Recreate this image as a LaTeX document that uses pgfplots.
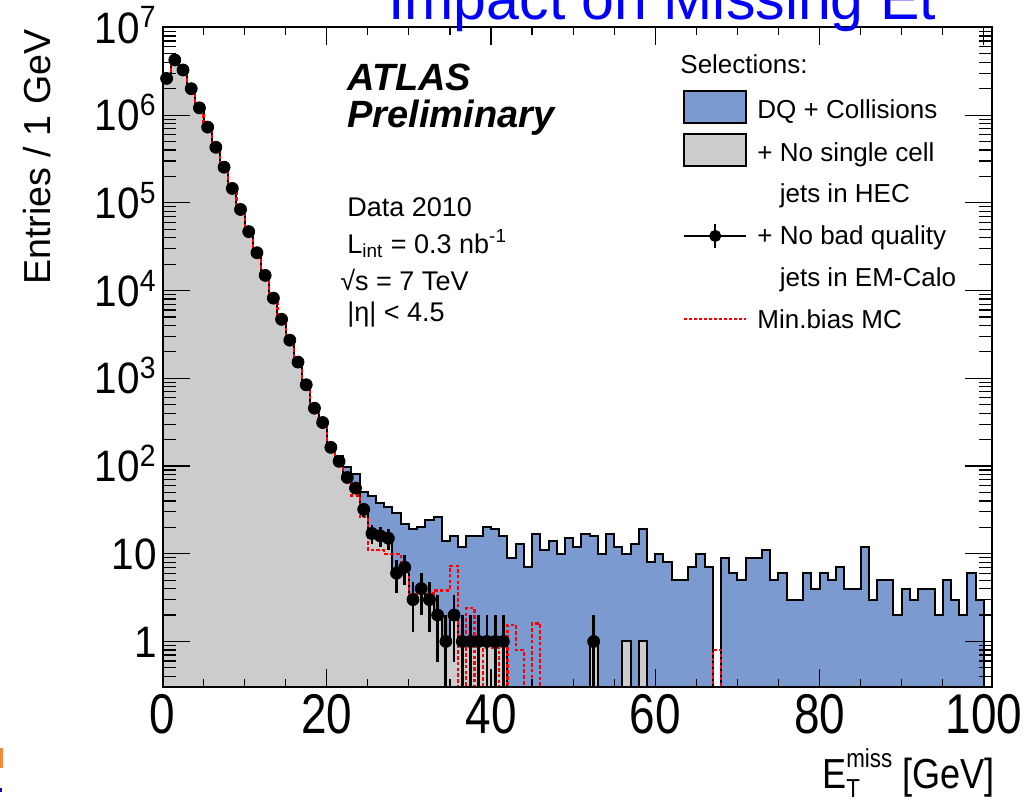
\documentclass[border=0pt]{standalone}
\usepackage{pgfplots}
\pgfplotsset{compat=1.18}
\usepackage{pgfplotstable}
\usepackage{fontspec}
\setmainfont{Liberation Sans}

\definecolor{histblue}{RGB}{122,154,208}
\definecolor{histgrey}{RGB}{204,204,204}
\definecolor{titleblue}{RGB}{0,0,255}
\definecolor{slideorange}{RGB}{240,140,60}

% Missing E_T spectra, 1 GeV bins (left bin edge); 0.001 marks an empty bin
\pgfplotstableread{
edge blue grey mc
0 0.001 0.001 0.001
0 2620000 2620000 2620000
1 4250000 4250000 4250000
2 3270000 3270000 3270000
3 2000000 2000000 2000000
4 1210000 1210000 1210000
5 730000 730000 730000
6 430000 430000 430000
7 255000 255000 255000
8 146000 146000 146000
9 84000 84000 84000
10 47000 47000 47000
11 27000 27000 27000
12 14900 14900 14900
13 8200 8200 8200
14 4700 4700 4700
15 2720 2720 2720
16 1530 1530 1530
17 850 843 843
18 470 456 456
19 330 313 313
20 175 163 163
21 131 113 113
22 97 74 70
23 81 56 46
24 50 32 26
25 46 17 11
26 38 16 11
27 34 15 10
28 29 6 10
29 22 7 7
30 19 3 3.5
31 20 4 3.5
32 24 3 3.5
33 26 2 3.8
34 14 1 3.8
35 16 2 7.3
36 12 1 0.001
37 16 1 2.4
38 16 1 0.001
39 20 1 0.85
40 19 1 0.85
41 16 1 0.001
42 9 0.001 1.55
43 13 0.001 0.8
44 7 0.001 0.001
45 17 0.001 1.6
46 11 0.001 0.001
47 14 0.001 0.001
48 10 0.001 0.001
49 15 0.001 0.001
50 12 0.001 0.001
51 17 0.001 0.001
52 16 1 0.001
53 10 0.001 0.001
54 17 0.001 0.001
55 12 0.001 0.001
56 10 1 0.001
57 13 0.001 0.001
58 19 1 0.001
59 8 0.001 0.001
60 10 0.001 0.001
61 8 0.001 0.001
62 5 0.001 0.001
63 5 0.001 0.001
64 7 0.001 0.001
65 10 0.001 0.001
66 7 0.001 0.001
67 0.001 0.001 0.8
68 9 0.001 0.001
69 6 0.001 0.001
70 5 0.001 0.001
71 9 0.001 0.001
72 9 0.001 0.001
73 11 0.001 0.001
74 5 0.001 0.001
75 6 0.001 0.001
76 3 0.001 0.001
77 3 0.001 0.001
78 6 0.001 0.001
79 4 0.001 0.001
80 6 0.001 0.001
81 5 0.001 0.001
82 7 0.001 0.001
83 4 0.001 0.001
84 4 0.001 0.001
85 12 0.001 0.001
86 3 0.001 0.001
87 5 0.001 0.001
88 5 0.001 0.001
89 2 0.001 0.001
90 4 0.001 0.001
91 3 0.001 0.001
92 4 0.001 0.001
93 4 0.001 0.001
94 2 0.001 0.001
95 5 0.001 0.001
96 3 0.001 0.001
97 2 0.001 0.001
98 6 0.001 0.001
99 3 0.001 0.001
100 3 0.001 0.001
100 0.001 0.001 0.001
}\histos

% Selected data: bin centre, entries, Poisson errors
\pgfplotstableread{
x y ep em
0.5 2620000 1619 1619
1.5 4250000 2062 2062
2.5 3270000 1808 1808
3.5 2000000 1414 1414
4.5 1210000 1100 1100
5.5 730000 854 854
6.5 430000 656 656
7.5 255000 505 505
8.5 146000 382 382
9.5 84000 290 290
10.5 47000 217 217
11.5 27000 164 164
12.5 14900 122 122
13.5 8200 91 91
14.5 4700 69 69
15.5 2720 52 52
16.5 1530 39 39
17.5 843 29 29
18.5 456 21 21
19.5 313 18 18
20.5 163 13 13
21.5 113 11 11
22.5 74 8.6 8.6
23.5 56 7.5 7.5
24.5 32 5.7 5.7
25.5 17 4.1 4.1
26.5 16 4 4
27.5 15 3.9 3.9
28.5 6 2.45 2.45
29.5 7 2.65 2.65
30.5 3 1.73 1.73
31.5 4 2 2
32.5 3 1.73 1.73
33.5 2 1.41 1.41
34.5 1 1 0.999
35.5 2 1.41 1.41
36.5 1 1 0.999
37.5 1 1 0.999
38.5 1 1 0.999
39.5 1 1 0.999
40.5 1 1 0.999
41.5 1 1 0.999
52.5 1 1 0.999
}\seldata

\begin{document}
\begin{tikzpicture}
\begin{axis}[
  at={(81.25pt,58.85pt)}, anchor=south west,
  width=414.75pt, height=329.95pt, scale only axis,
  xmin=0, xmax=101,
  ymode=log, ymin=0.3, ymax=1e7,
  axis on top,
  axis line style={line width=1pt},
  tick style={line width=0.6pt, black},
  tick align=inside,
  major tick length=13.5pt, minor tick length=6.5pt,
  xtick style={/pgfplots/major tick length=9pt, /pgfplots/minor tick length=4pt},
  xtick={0,20,40,60,80,100},
  xticklabels={0,20,40,60,80,100},
  minor x tick num=3,
  ytick={0.1,1,10,100,1000,10000,100000,1000000,10000000},
  yticklabels={,1,10,10\textsuperscript{2},10\textsuperscript{3},10\textsuperscript{4},10\textsuperscript{5},10\textsuperscript{6},10\textsuperscript{7}},
  minor ytick={0.3,0.4,0.5,0.6,0.7,0.8,0.9,
    2,3,4,5,6,7,8,9,20,30,40,50,60,70,80,90,
    200,300,400,500,600,700,800,900,2000,3000,4000,5000,6000,7000,8000,9000,
    2e4,3e4,4e4,5e4,6e4,7e4,8e4,9e4,2e5,3e5,4e5,5e5,6e5,7e5,8e5,9e5,
    2e6,3e6,4e6,5e6,6e6,7e6,8e6,9e6},
  xticklabel style={font=\fontsize{28}{28}\selectfont, xscale=0.82, inner sep=0pt, anchor=north, yshift=-3.5pt},
  yticklabel style={font=\fontsize{22}{22}\selectfont, xscale=0.92, inner sep=0pt, anchor=base east, xshift=-3pt, yshift=-7.8pt},
  xlabel={E\rlap{\raisebox{-0.4ex}{\fontsize{13}{13}\selectfont T}}\raisebox{0.95ex}{\fontsize{13}{13}\selectfont miss} [GeV]},
  xlabel style={at={(axis description cs:1.0036,-0.1540)}, anchor=base east, inner sep=0pt, xscale=0.86, font=\fontsize{21}{21}\selectfont},
  ylabel={Entries / 1 GeV},
  ylabel style={at={(axis description cs:-0.1513,0.8036)}, anchor=center, inner sep=0pt, font=\fontsize{18.8}{19}\selectfont},
  legend style={at={(axis description cs:0.6275,0.9051)}, anchor=north west,
    draw=none, fill=none, inner sep=0pt, outer sep=0pt,
    row sep=4.3pt, column sep=5pt,
    font=\fontsize{13}{13}\selectfont,
    nodes={inner sep=0pt, text height=13.6pt, text depth=3pt},
    cells={anchor=base west}},
]
% DQ + Collisions
\addplot[const plot, fill=histblue, draw=black, line width=1pt, forget plot]
  table[x=edge, y=blue] {\histos};
% + no single-cell jets in the HEC
\addplot[const plot, fill=histgrey, draw=black, line width=1pt, forget plot]
  table[x=edge, y=grey] {\histos};
% minimum-bias simulation
\addplot[const plot, red, line width=1.1pt, dash pattern=on 1.8pt off 1.1pt, forget plot]
  table[x=edge, y=mc] {\histos};
% + no bad-quality jets in the EM calorimeter
\addplot[only marks, mark=*, mark size=3pt, black, forget plot,
  error bars/.cd, y dir=both, y explicit, x dir=both, x fixed=0.5,
  error mark=none, error bar style={line width=1.4pt, black}]
  table[x=x, y=y, y error plus=ep, y error minus=em] {\seldata};

\addlegendimage{legend image code/.code={\draw[fill=histblue, draw=black, line width=1pt] (0pt,-2.4pt) rectangle (31pt,13.6pt);}}
\addlegendentry{DQ + Collisions}
\addlegendimage{legend image code/.code={\draw[fill=histgrey, draw=black, line width=1pt] (0pt,-2.4pt) rectangle (31pt,13.6pt);}}
\addlegendentry{+ No single cell}
\addlegendimage{empty legend}
\addlegendentry{\phantom{+ }jets in HEC}
\addlegendimage{legend image code/.code={\draw[black, line width=1.2pt] (0pt,4.35pt) -- (31pt,4.35pt) (15.5pt,-1.8pt) -- (15.5pt,10.5pt); \fill[black] (15.5pt,4.35pt) circle (2.8pt);}}
\addlegendentry{+ No bad quality}
\addlegendimage{empty legend}
\addlegendentry{\phantom{+ }jets in EM-Calo}
\addlegendimage{legend image code/.code={\draw[red, line width=1pt, dash pattern=on 1.5pt off 1pt] (0pt,4.85pt) -- (31pt,4.85pt);}}
\addlegendentry{Min.bias MC}
\end{axis}

% annotations, placed in pixel units from the top-left corner
\begin{scope}[shift={(0pt,402.5pt)}, x=0.5pt, y=-0.5pt]
  \node[anchor=base west, inner sep=0pt, text=titleblue, font=\fontsize{29.5}{30}\selectfont] at (388,20) {Impact on Missing Et};
  \node[anchor=base west, inner sep=0pt, font=\fontsize{19}{19}\selectfont\bfseries\itshape] at (347,90.7) {ATLAS};
  \node[anchor=base west, inner sep=0pt, font=\fontsize{19}{19}\selectfont\bfseries\itshape] at (347,127.3) {Preliminary};
  \node[anchor=base west, inner sep=0pt, font=\fontsize{13.5}{14}\selectfont] at (347,216.7) {Data 2010};
  \node[anchor=base west, inner sep=0pt, font=\fontsize{13.5}{14}\selectfont] at (347,253.3) {L\textsubscript{int} = 0.3 nb\textsuperscript{-1}};
  \node[anchor=base west, inner sep=0pt, font=\fontsize{13.5}{14}\selectfont] at (340,290) {√s = 7 TeV};
  \node[anchor=base west, inner sep=0pt, font=\fontsize{13.5}{14}\selectfont] at (347,321.7) {|η| < 4.5};
  \node[anchor=base west, inner sep=0pt, font=\fontsize{13}{13}\selectfont] at (680,73.3) {Selections:};
  \fill[slideorange] (0,748) rectangle (3,768);
  \fill[titleblue!70!black] (0,788) rectangle (2,792);
\end{scope}
\pgfresetboundingbox
\path[use as bounding box] (0pt,0pt) rectangle (516pt,402.5pt);
\end{tikzpicture}
\end{document}
